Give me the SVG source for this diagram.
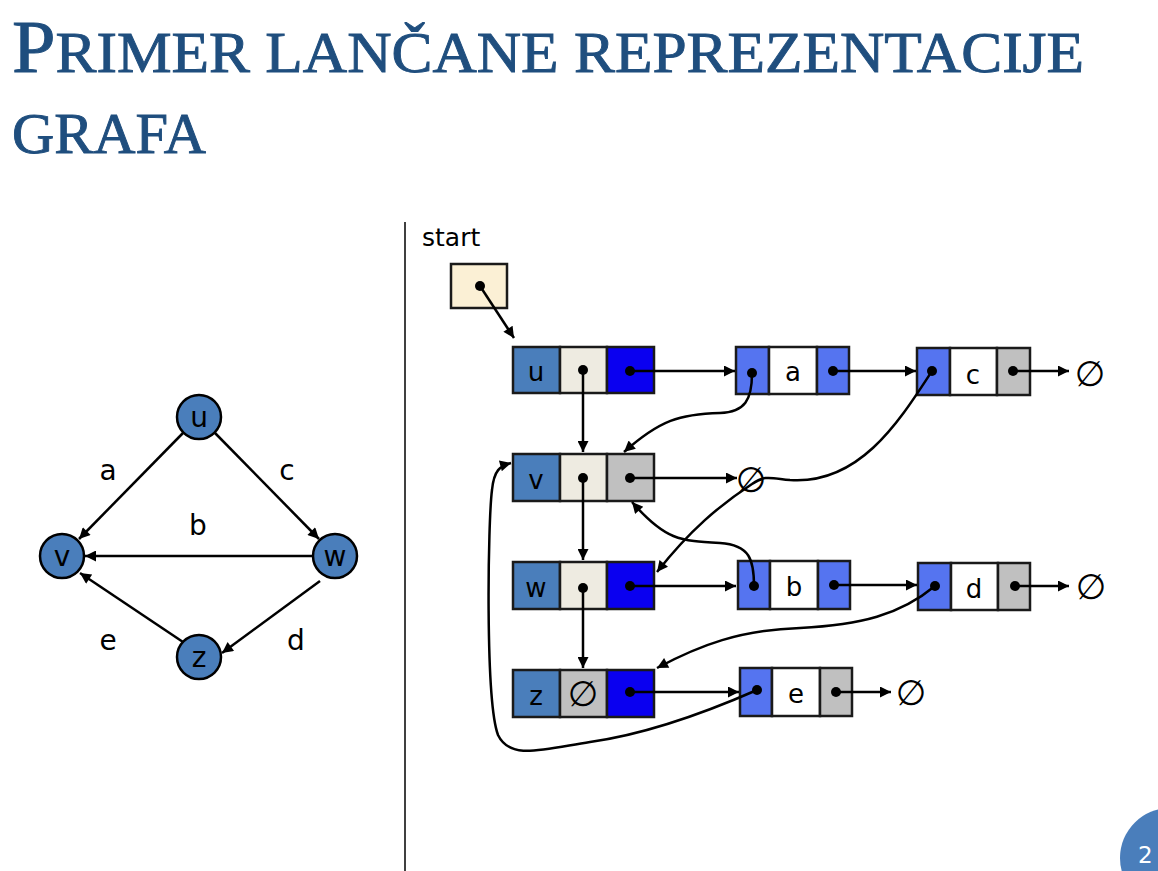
<svg xmlns="http://www.w3.org/2000/svg" width="1158" height="871" viewBox="0 0 1158 871">
  <style>
    .title { font-family: "Liberation Serif", "DejaVu Serif", serif; fill: #1f4e7e; stroke: #1f4e7e; stroke-width: 0.9; }
    .lbl { font-family: "DejaVu Sans", Verdana, sans-serif; font-size: 26px; fill: #000; text-anchor: middle; }
    .glbl { font-family: "DejaVu Sans", Verdana, sans-serif; font-size: 28px; fill: #000; text-anchor: middle; }
    .vert { fill: #4a7ebb; stroke: #000; stroke-width: 2.5; }
    .cell { stroke: #1a1a1a; stroke-width: 2.5; }
    .head { fill: #4a7ebb; }
    .beige { fill: #eeebe1; }
    .blue { fill: #0a00f0; }
    .eblue { fill: #5574f0; }
    .white { fill: #ffffff; }
    .gray { fill: #c0c0c0; }
    .dot { fill: #000; }
    .edge { fill: none; stroke: #000; stroke-width: 2.5; marker-end: url(#arr); }
    .null { font-family: "DejaVu Sans", sans-serif; font-size: 35px; fill: #000; text-anchor: middle; }
  </style>
  <defs>
    <marker id="arr" viewBox="0 0 10 10" refX="10" refY="5" markerWidth="13" markerHeight="11" markerUnits="userSpaceOnUse" orient="auto">
      <path d="M0,0 L10,5 L0,10 Z" fill="#000"/>
    </marker>
  </defs>

  <rect width="1158" height="871" fill="#ffffff"/>

  <!-- heading -->
  <text class="title" x="12" y="72" textLength="1072" lengthAdjust="spacingAndGlyphs"><tspan font-size="74">P</tspan><tspan font-size="58">RIMER LANČANE REPREZENTACIJE</tspan></text>
  <text class="title" x="12" y="153" font-size="58" textLength="194" lengthAdjust="spacingAndGlyphs">GRAFA</text>

  <!-- divider -->
  <line x1="405" y1="222" x2="405" y2="871" stroke="#000" stroke-width="1.5"/>

  <!-- small graph: edges -->
  <g id="graph-edges">
    <line class="edge" x1="183" y1="433" x2="79" y2="539"/>
    <line class="edge" x1="215" y1="433" x2="319" y2="539"/>
    <line class="edge" x1="313" y1="556" x2="85" y2="556"/>
    <line class="edge" x1="320" y1="581" x2="222" y2="653"/>
    <line class="edge" x1="183" y1="642" x2="80" y2="573"/>
  </g>
  <g id="graph-edge-labels">
    <text class="glbl" x="108" y="480">a</text>
    <text class="glbl" x="287" y="480">c</text>
    <text class="glbl" x="198" y="535">b</text>
    <text class="glbl" x="108" y="650">e</text>
    <text class="glbl" x="296" y="650">d</text>
  </g>
  <g id="g-u"><circle class="vert" cx="199" cy="417" r="22"/><text class="glbl" x="199" y="427">u</text></g>
  <g id="g-v"><circle class="vert" cx="62" cy="556" r="22"/><text class="glbl" x="62" y="566">v</text></g>
  <g id="g-w"><circle class="vert" cx="335" cy="556" r="22"/><text class="glbl" x="335" y="566">w</text></g>
  <g id="g-z"><circle class="vert" cx="199" cy="657" r="22"/><text class="glbl" x="199" y="667">z</text></g>

  <!-- linked representation -->
  <text x="422" y="246" font-family="DejaVu Sans, sans-serif" font-size="25" fill="#000">start</text>
  <g id="start">
    <rect class="cell" x="451" y="264" width="56" height="44" fill="#fbf0d5"/>
  </g>

  <g id="node-u">
    <rect class="cell head" x="513" y="347" width="47" height="46"/>
    <rect class="cell beige" x="560" y="347" width="47" height="46"/>
    <rect class="cell blue" x="607" y="347" width="47" height="46"/>
    <text class="lbl" x="536" y="381">u</text>
  </g>
  <g id="node-v">
    <rect class="cell head" x="513" y="454" width="47" height="47"/>
    <rect class="cell beige" x="560" y="454" width="47" height="47"/>
    <rect class="cell gray" x="607" y="454" width="47" height="47"/>
    <text class="lbl" x="536" y="489">v</text>
  </g>
  <g id="node-w">
    <rect class="cell head" x="513" y="562" width="47" height="47"/>
    <rect class="cell beige" x="560" y="562" width="47" height="47"/>
    <rect class="cell blue" x="607" y="562" width="47" height="47"/>
    <text class="lbl" x="536" y="597">w</text>
  </g>
  <g id="node-z">
    <rect class="cell head" x="513" y="670" width="47" height="47"/>
    <rect class="cell gray" x="560" y="670" width="47" height="47"/>
    <rect class="cell blue" x="607" y="670" width="47" height="47"/>
    <text class="lbl" x="536" y="705">z</text>
    <text class="null" x="583" y="706" fill="#333">∅</text>
  </g>

  <g id="edge-a">
    <rect class="cell eblue" x="736" y="347" width="33" height="47"/>
    <rect class="cell white" x="769" y="347" width="48" height="47"/>
    <rect class="cell eblue" x="817" y="347" width="32" height="47"/>
    <text class="lbl" x="793" y="381">a</text>
  </g>
  <g id="edge-c">
    <rect class="cell eblue" x="917" y="348" width="33" height="47"/>
    <rect class="cell white" x="950" y="348" width="47" height="47"/>
    <rect class="cell gray" x="997" y="348" width="33" height="47"/>
    <text class="lbl" x="973" y="384">c</text>
  </g>
  <g id="edge-b">
    <rect class="cell eblue" x="738" y="561" width="32" height="48"/>
    <rect class="cell white" x="770" y="561" width="48" height="48"/>
    <rect class="cell eblue" x="818" y="561" width="32" height="48"/>
    <text class="lbl" x="794" y="596">b</text>
  </g>
  <g id="edge-d">
    <rect class="cell eblue" x="918" y="563" width="33" height="47"/>
    <rect class="cell white" x="951" y="563" width="47" height="47"/>
    <rect class="cell gray" x="998" y="563" width="32" height="47"/>
    <text class="lbl" x="974" y="598">d</text>
  </g>
  <g id="edge-e">
    <rect class="cell eblue" x="740" y="668" width="32" height="48"/>
    <rect class="cell white" x="772" y="668" width="48" height="48"/>
    <rect class="cell gray" x="820" y="668" width="32" height="48"/>
    <text class="lbl" x="796" y="703">e</text>
  </g>

  <!-- null markers -->
  <g id="nulls">
    <text class="null" x="1090" y="386">∅</text>
    <text class="null" x="751" y="492">∅</text>
    <text class="null" x="1091" y="599">∅</text>
    <text class="null" x="911" y="705">∅</text>
  </g>

  <!-- pointers -->
  <g id="pointers">
    <line class="edge" x1="480" y1="286" x2="514" y2="338"/>
    <line class="edge" x1="630" y1="371" x2="735" y2="371"/>
    <line class="edge" x1="833" y1="371" x2="916" y2="371"/>
    <line class="edge" x1="1013" y1="371" x2="1069" y2="371"/>
    <line class="edge" x1="583" y1="370" x2="583" y2="452"/>
    <line class="edge" x1="583" y1="478" x2="583" y2="560"/>
    <line class="edge" x1="583" y1="588" x2="583" y2="668"/>
    <line class="edge" x1="630" y1="478" x2="737" y2="478"/>
    <line class="edge" x1="630" y1="586" x2="736" y2="586"/>
    <line class="edge" x1="834" y1="585" x2="917" y2="585"/>
    <line class="edge" x1="1015" y1="586" x2="1069" y2="586"/>
    <line class="edge" x1="630" y1="692" x2="739" y2="692"/>
    <line class="edge" x1="836" y1="692" x2="891" y2="692"/>
    <path class="edge" d="M752,373 C752,400 745,412 720,413 C680,414 660,420 624,452"/>
    <path class="edge" d="M932,371 C900,420 860,485 790,480 C770,478 765,475 752,484 C720,505 690,530 657,572"/>
    <path class="edge" d="M754,586 C754,560 750,545 720,543 C680,541 665,540 632,502"/>
    <path class="edge" d="M935,586 C900,615 860,625 800,628 C740,630 700,645 657,668"/>
    <path class="edge" d="M757,690 C700,715 640,735 590,742 C540,750 510,760 498,735 C485,700 488,520 492,490 C494,470 500,466 511,463"/>
  </g>

  <!-- pointer origins -->
  <g id="dots">
    <circle class="dot" cx="480" cy="286" r="5"/>
    <circle class="dot" cx="583" cy="370" r="5"/>
    <circle class="dot" cx="630" cy="371" r="5"/>
    <circle class="dot" cx="583" cy="478" r="5"/>
    <circle class="dot" cx="630" cy="478" r="5"/>
    <circle class="dot" cx="583" cy="588" r="5"/>
    <circle class="dot" cx="630" cy="586" r="5"/>
    <circle class="dot" cx="630" cy="692" r="5"/>
    <circle class="dot" cx="752" cy="373" r="5"/>
    <circle class="dot" cx="833" cy="371" r="5"/>
    <circle class="dot" cx="932" cy="371" r="5"/>
    <circle class="dot" cx="1013" cy="371" r="5"/>
    <circle class="dot" cx="754" cy="586" r="5"/>
    <circle class="dot" cx="834" cy="585" r="5"/>
    <circle class="dot" cx="935" cy="586" r="5"/>
    <circle class="dot" cx="1015" cy="586" r="5"/>
    <circle class="dot" cx="757" cy="690" r="5"/>
    <circle class="dot" cx="836" cy="692" r="5"/>
  </g>

  <!-- page badge -->
  <circle cx="1170" cy="858" r="50" fill="#4a7ebb"/>
  <text x="1138" y="863" font-family="DejaVu Sans, sans-serif" font-size="23" fill="#ffffff">2</text>
</svg>
